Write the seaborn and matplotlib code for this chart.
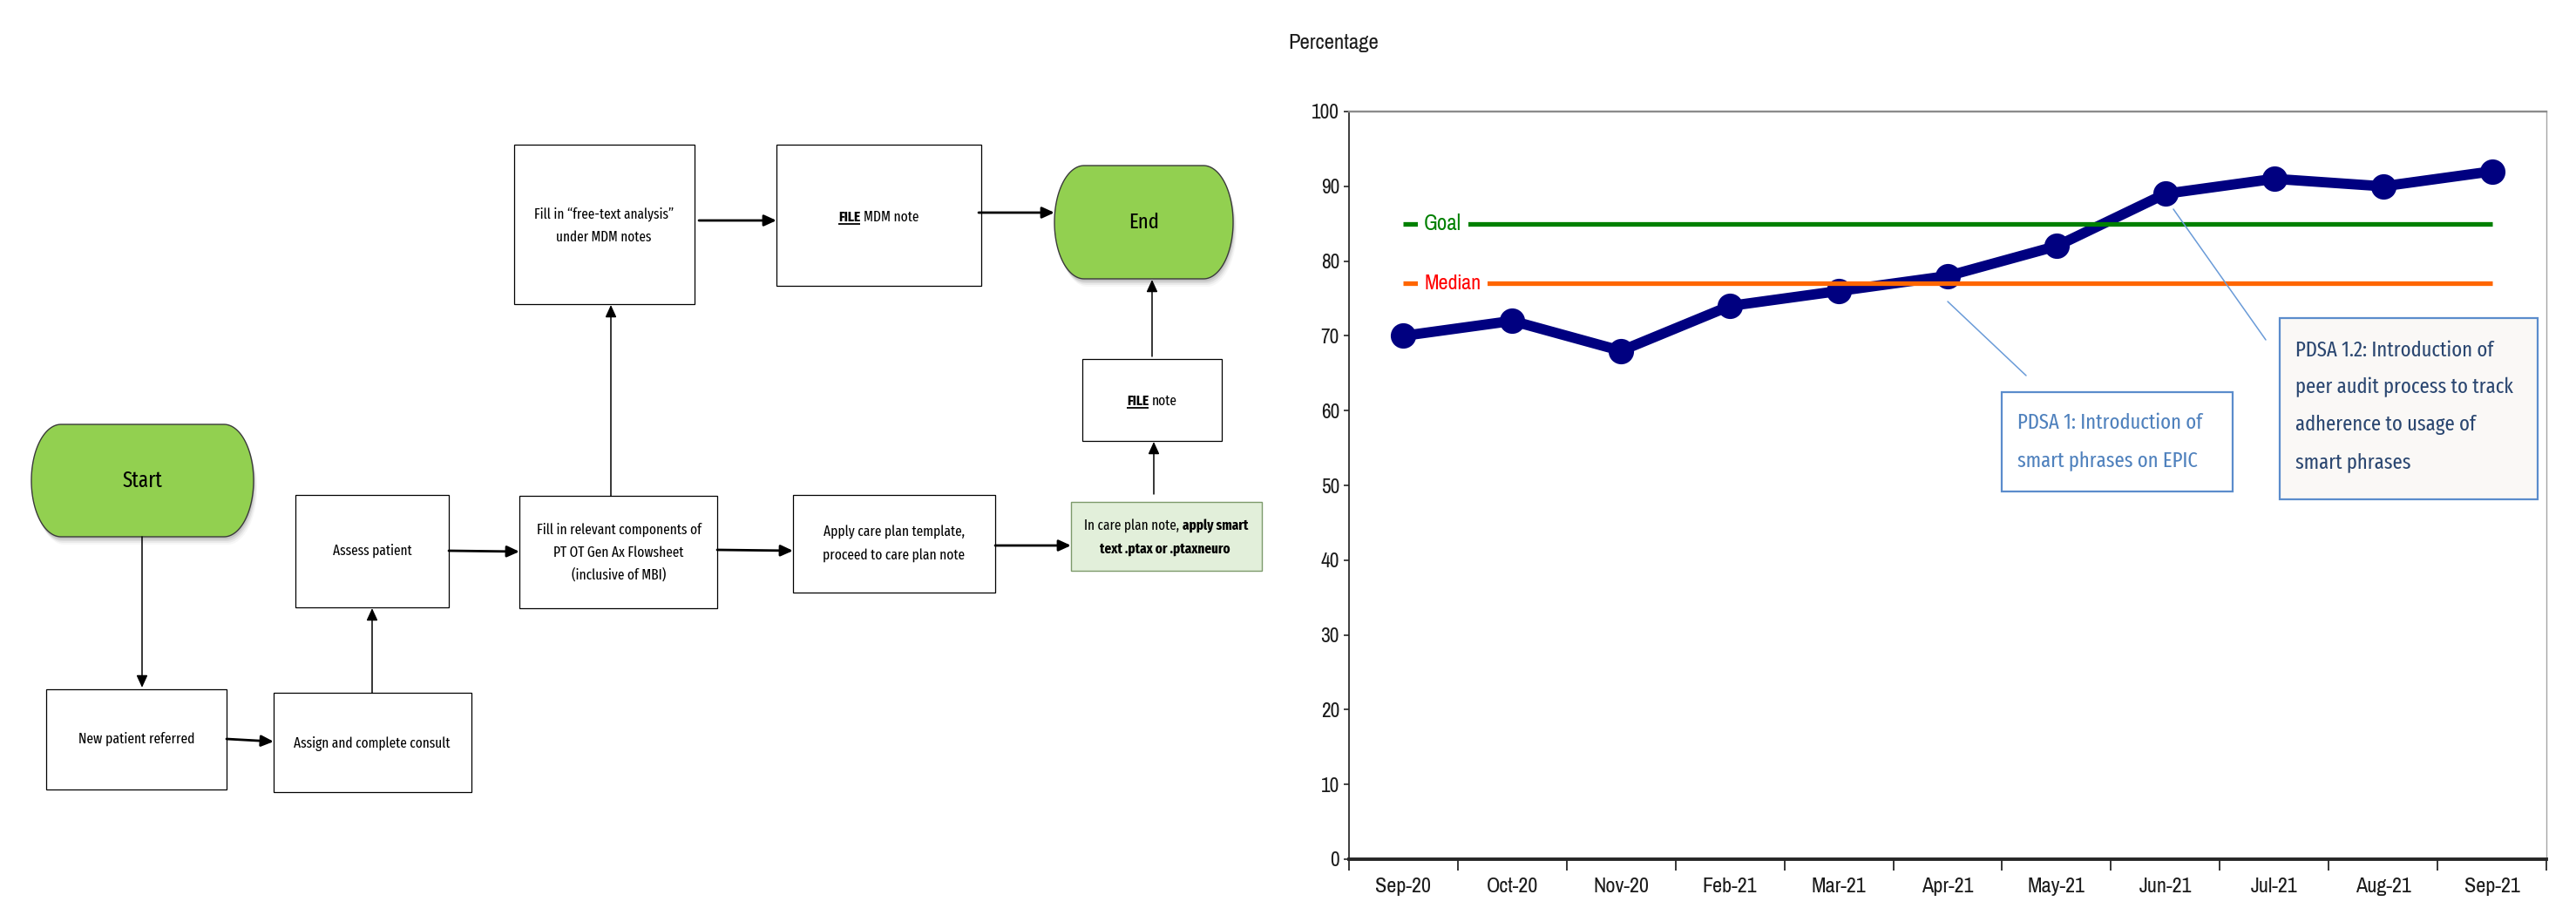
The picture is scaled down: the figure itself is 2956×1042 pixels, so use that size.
import numpy as np
import pandas as pd
import matplotlib
matplotlib.use("Agg")
import matplotlib.pyplot as plt
import seaborn as sns
from matplotlib.patches import Rectangle, Polygon

# ---------------- data ----------------
months = ["Sep-20", "Oct-20", "Nov-20", "Feb-21", "Mar-21", "Apr-21",
          "May-21", "Jun-21", "Jul-21", "Aug-21", "Sep-21"]
percentage = [70, 72, 68, 74, 76, 78, 82, 89, 91, 90, 92]
goal_value = 85
median_value = 77
y_ticks = list(range(0, 101, 10))

pdsa1_text = ["PDSA 1: Introduction of", "smart phrases on EPIC"]
pdsa12_text = ["PDSA 1.2: Introduction of", "peer audit process to track",
               "adherence to usage of", "smart phrases"]

# ---------------- canvas ----------------
W, H, DPI = 2956, 1042, 100
CHART_FONT = ["Pragati Narrow", "Roboto Condensed", "DejaVu Sans"]
FLOW_FONT = ["Fira Sans Extra Condensed", "Fira Sans Condensed", "DejaVu Sans"]
sns.set_theme(style="white")
plt.rcParams["font.family"] = CHART_FONT

fig = plt.figure(figsize=(W / DPI, H / DPI), dpi=DPI)
fig.patch.set_facecolor("white")

flow = fig.add_axes([0, 0, 1, 1], zorder=0)
flow.set_xlim(0, W)
flow.set_ylim(H, 0)
flow.axis("off")

over = fig.add_axes([0, 0, 1, 1], zorder=5)
over.set_xlim(0, W)
over.set_ylim(H, 0)
over.axis("off")

renderer = fig.canvas.get_renderer()
PX = DPI / 72.0


def text_width(s, size, weight="normal", family=FLOW_FONT):
    t = flow.text(0, 0, s, fontsize=size, fontweight=weight, family=family)
    w = t.get_window_extent(renderer).width
    t.remove()
    return w


def fit(s, target, weight="normal", family=FLOW_FONT):
    """Font size (pt) that makes string s span target pixels."""
    return 20.0 * target / text_width(s, 20.0, weight, family)


def rich_line(axis, cx, cy, parts, size, color="black", family=FLOW_FONT):
    gap = text_width("a a", size, family=family) - text_width("aa", size, family=family)
    widths = [text_width(s, size, w, family) for s, w, _ in parts]
    total = sum(widths) + gap * (len(parts) - 1)
    x = cx - total / 2
    base = cy + 0.34 * size * PX
    for (s, w, ul), wd in zip(parts, widths):
        axis.text(x, base, s, fontsize=size, fontweight=w, color=color, family=family,
                  ha="left", va="baseline", zorder=3)
        if ul:
            axis.plot([x, x + wd], [base + 3, base + 3], color=color, lw=1.3,
                      solid_capstyle="butt", zorder=3)
        x += wd + gap


def box(axis, x0, y0, x1, y1, fc="white", ec="black", lw=0.9):
    axis.add_patch(Rectangle((x0, y0), x1 - x0, y1 - y0, fc=fc, ec=ec, lw=lw, zorder=2))


def lines(axis, cx, ys, texts, size, color="black", weight="normal", ha="center",
          family=FLOW_FONT):
    for y, s in zip(ys, texts):
        axis.text(cx, y, s, fontsize=size, color=color, fontweight=weight, family=family,
                  ha=ha, va="center", zorder=3)


def terminator(axis, x0, y0, x1, y1, rx, label, size):
    ry = (y1 - y0) / 2
    yc = (y0 + y1) / 2
    t1 = np.linspace(-np.pi / 2, np.pi / 2, 80)
    t2 = np.linspace(np.pi / 2, 3 * np.pi / 2, 80)
    right = np.column_stack([x1 - rx + rx * np.cos(t1), yc + ry * np.sin(t1)])
    left = np.column_stack([x0 + rx + rx * np.cos(t2), yc + ry * np.sin(t2)])
    pts = np.vstack([right, left])
    for dx, dy, a in [(4, 9, 0.06), (3, 7, 0.10), (2, 5, 0.16), (1, 3, 0.22)]:
        axis.add_patch(Polygon(pts + [dx, dy], closed=True, fc="#7f7f7f", ec="none",
                               alpha=a, zorder=1))
    axis.add_patch(Polygon(pts, closed=True, fc="#92d050", ec="#3a3a3a", lw=1.0, zorder=2))
    axis.text((x0 + x1) / 2, yc, label, fontsize=size, ha="center", va="center",
              color="black", family=FLOW_FONT, zorder=3)


def arrow(axis, x0, y0, x1, y1, lw):
    axis.annotate("", xy=(x1, y1), xytext=(x0, y0),
                  arrowprops=dict(arrowstyle="-|>,head_length=0.7,head_width=0.32",
                                  color="black", lw=lw, shrinkA=0, shrinkB=0),
                  zorder=3)


# ---------------- workflow diagram ----------------
terminator(flow, 36, 487, 291, 616, 34, "Start", fit("Start", 46))
terminator(flow, 1210, 190, 1415, 320, 34, "End", fit("End", 35))

box(flow, 53, 791, 260, 906)
lines(flow, 157, [848], ["New patient referred"], fit("New patient referred", 134))

box(flow, 314, 795, 541, 909)
lines(flow, 427, [853], ["Assign and complete consult"], fit("Assign and complete consult", 180))

box(flow, 339, 568, 515, 697)
lines(flow, 427, [632], ["Assess patient"], fit("Assess patient", 91))

fill_lines = ["Fill in relevant components of", "PT OT Gen Ax Flowsheet", "(inclusive of MBI)"]
box(flow, 596, 569, 823, 698)
lines(flow, 710, [608, 634, 660], fill_lines, fit(fill_lines[0], 189))

free_lines = ["Fill in \u201cfree-text analysis\u201d", "under MDM notes"]
box(flow, 590, 166, 797, 349)
lines(flow, 693, [246, 272], free_lines, fit(free_lines[0], 159))

FS = fit("Apply care plan template,", 162)
box(flow, 891, 166, 1126, 328)
rich_line(flow, 1008, 248, [("FILE", "bold", True), ("MDM note", "normal", False)], FS)

box(flow, 910, 568, 1142, 680)
lines(flow, 1026, [611, 638], ["Apply care plan template,", "proceed to care plan note"], FS)

GS = fit("In care plan note, apply smart", 186)
box(flow, 1229, 576, 1448, 655, fc="#e2efda", ec="#7d9a6b", lw=1.0)
rich_line(flow, 1338, 603, [("In care plan note,", "normal", False),
                            ("apply smart", "bold", False)], GS)
lines(flow, 1337, [630], ["text .ptax or .ptaxneuro"], GS, weight="bold")

box(flow, 1242, 412, 1402, 506)
rich_line(flow, 1322, 459, [("FILE", "bold", True), ("note", "normal", False)], FS)

THIN, THICK = 1.1, 2.0
arrow(flow, 163, 616, 163, 789, THIN)
arrow(flow, 260, 848, 314, 851, THICK)
arrow(flow, 427, 795, 427, 698, THIN)
arrow(flow, 515, 632, 596, 633, THICK)
arrow(flow, 823, 631, 910, 632, THICK)
arrow(flow, 701, 569, 701, 350, THIN)
arrow(flow, 802, 253, 891, 253, THICK)
arrow(flow, 1123, 244, 1210, 244, THICK)
arrow(flow, 1142, 626, 1229, 626, THICK)
arrow(flow, 1324, 567, 1324, 507, THIN)
arrow(flow, 1322, 409, 1322, 321, THIN)

# ---------------- run chart ----------------
AX_L, AX_R, AX_T, AX_B = 1548, 2922, 128, 986
ax = fig.add_axes([AX_L / W, (H - AX_B) / H, (AX_R - AX_L) / W, (AX_B - AX_T) / H], zorder=2)
ax.set_facecolor("white")

df = pd.DataFrame({"month": months, "pos": np.arange(len(months)), "pct": percentage})
sns.lineplot(data=df, x="pos", y="pct", ax=ax, color="#000080", linewidth=8.5,
             marker="o", markersize=21, markeredgewidth=0, zorder=2)

x_first, x_last = df["pos"].iloc[0], df["pos"].iloc[-1]
ax.plot([x_first, x_last], [goal_value, goal_value], color="#008000", lw=3.8,
        solid_capstyle="butt", zorder=3)
ax.plot([x_first, x_last], [median_value, median_value], color="#ff6600", lw=3.8,
        solid_capstyle="butt", zorder=3)
ax.text(0.19, goal_value, "Goal", color="#008000", fontsize=fit("Goal", 43, family=CHART_FONT),
        family=CHART_FONT, ha="left", va="center",
        bbox=dict(boxstyle="square,pad=0.28", fc="white", ec="none"), zorder=4)
ax.text(0.19, median_value, "Median", color="#ff0000",
        fontsize=fit("Median", 65, family=CHART_FONT), family=CHART_FONT,
        ha="left", va="center",
        bbox=dict(boxstyle="square,pad=0.28", fc="white", ec="none"), zorder=4)

XS = fit("Sep-20", 64, family=CHART_FONT)
YS = fit("100", 32, family=CHART_FONT)
ax.set_xlim(-0.5, len(months) - 0.5)
ax.set_ylim(0, 100)
ax.set_yticks(y_ticks)
ax.set_xticks(df["pos"])
ax.set_xticklabels(months)
ax.set_xticks(np.arange(-0.5, len(months)), minor=True)
ax.set_xlabel("")
ax.set_ylabel("")
ax.tick_params(axis="x", which="major", bottom=True, length=0, pad=15,
               labelsize=XS, labelcolor="#1a1a1a")
ax.tick_params(axis="x", which="minor", bottom=True, length=9, width=1.3,
               direction="out", color="#262626")
ax.tick_params(axis="y", which="major", left=True, length=4, width=1.2,
               direction="out", color="#262626", labelsize=YS, labelcolor="#1a1a1a", pad=4)
ax.spines["top"].set(color="#8c8c8c", lw=1.7)
ax.spines["right"].set(color="#a6a6a6", lw=1.0)
ax.spines["left"].set(color="#1a1a1a", lw=1.2)
ax.spines["bottom"].set(color="#262626", lw=2.8)
for s in ax.spines.values():
    s.set_visible(True)

flow.text(1478, 49, "Percentage", fontsize=fit("Percentage", 104, family=CHART_FONT),
          family=CHART_FONT, ha="left", va="center", color="#1a1a1a")

# ---------------- PDSA callouts ----------------
over.plot([2235, 2325], [346, 431], color="#6a9bd8", lw=1.1)
over.plot([2494, 2600], [240, 390], color="#6a9bd8", lw=1.1)

PS = fit(pdsa12_text[1], 250)
over.add_patch(Rectangle((2297, 450), 2562 - 2297, 564 - 450, fc="white",
                         ec="#5b8ccc", lw=1.6, zorder=2))
lines(over, 2315, [485, 528], pdsa1_text, PS, color="#4f81bd", ha="left")

over.add_patch(Rectangle((2616, 365), 2912 - 2616, 573 - 365, fc="#faf8f6",
                         ec="#5b8ccc", lw=1.6, zorder=2))
lines(over, 2634, [402, 444, 487, 530], pdsa12_text, PS, color="#2a4670", ha="left")

fig.savefig("out.png", dpi=DPI)
